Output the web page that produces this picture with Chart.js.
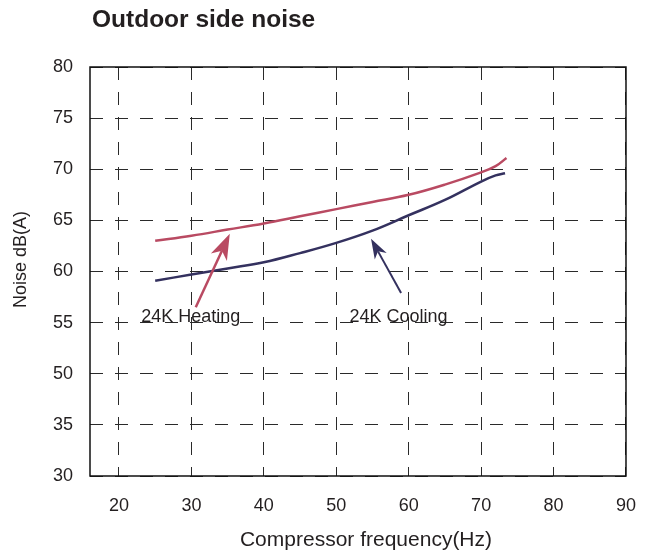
<!DOCTYPE html>
<html>
<head>
<meta charset="utf-8">
<script src="https://cdn.jsdelivr.net/npm/chart.js@4.4.1/dist/chart.umd.min.js"></script>
<style>
    html, body { margin: 0; padding: 0; background: #fff; }
    canvas { display: block; }
</style>
</head>
<body>
<canvas id="chart-noise" width="655" height="559"></canvas>
<script>
// Dados (frequência em Hz, ruído em dB(A))
const freqTicks = [20, 30, 40, 50, 60, 70, 80, 90];
// eixo Y quebrado: 40 e 45 do eixo aparecem como 30 e 35
const yTickLabels = ['30', '35', '50', '55', '60', '65', '70', '75', '80'];

const heatingFreq = [25, 30, 35, 40, 45, 50, 55, 60, 65, 70, 72, 73.5];
const heatingNoise = [63.0, 63.5, 64.1, 64.7, 65.4, 66.1, 66.8, 67.5, 68.5, 69.7, 70.3, 71.1];

const coolingFreq = [25, 30, 35, 40, 45, 50, 55, 60, 65, 70, 72, 73.3];
const coolingNoise = [59.1, 59.7, 60.3, 60.9, 61.8, 62.8, 64.0, 65.5, 67.0, 68.8, 69.4, 69.6];

const TEXT = '#231f20';
const RED = '#b94a62';
const NAVY = '#34315f';
const FONT = "'Liberation Sans', Arial, sans-serif";

Chart.defaults.font.family = FONT;
Chart.defaults.color = TEXT;

// Setas e rótulos das curvas (em unidades dos eixos)
const callouts = [
    { text: '24K Heating', color: RED, width: 2.5, head: 26, label: [29.9, 55.1], tail: [30.6, 56.5], tip: [35.3, 63.7] },
    { text: '24K Cooling', color: NAVY, width: 2, head: 20, label: [58.6, 55.1], tail: [58.95, 57.9], tip: [54.8, 63.2] }
];

// deslocamento dos títulos dos eixos em relação ao centro (px)
const titleShift = { x: [8, 0], y: [0, -12] };

function toPoints(xs, ys) {
    return xs.map((x, i) => ({ x: x, y: ys[i] }));
}

// Moldura, título e setas
const decorPlugin = {
    id: 'decor',
    afterDraw(chart) {
        const { ctx, chartArea: a, scales } = chart;
        ctx.save();
        ctx.strokeStyle = '#111';
        ctx.lineWidth = 1.5;
        ctx.strokeRect(a.left, a.top, a.right - a.left, a.bottom - a.top);

        ctx.fillStyle = TEXT;
        ctx.font = 'bold 24.5px ' + FONT;
        ctx.textAlign = 'left';
        ctx.textBaseline = 'alphabetic';
        ctx.fillText('Outdoor side noise', a.left + 2, 27);

        callouts.forEach(c => {
            const tx = scales.x.getPixelForValue(c.tail[0]);
            const ty = scales.y.getPixelForValue(c.tail[1]);
            const hx = scales.x.getPixelForValue(c.tip[0]);
            const hy = scales.y.getPixelForValue(c.tip[1]);
            const ang = Math.atan2(hy - ty, hx - tx);
            const len = c.head, half = c.head * 0.34, notch = c.head * 0.28;
            ctx.strokeStyle = c.color;
            ctx.fillStyle = c.color;
            ctx.lineWidth = c.width;
            ctx.beginPath();
            ctx.moveTo(tx, ty);
            ctx.lineTo(hx - Math.cos(ang) * (len - notch), hy - Math.sin(ang) * (len - notch));
            ctx.stroke();
            ctx.translate(hx, hy);
            ctx.rotate(ang);
            ctx.beginPath();
            ctx.moveTo(0, 0);
            ctx.lineTo(-len, -half);
            ctx.lineTo(-len + notch, 0);
            ctx.lineTo(-len, half);
            ctx.closePath();
            ctx.fill();
            ctx.setTransform(1, 0, 0, 1, 0, 0);

            ctx.fillStyle = TEXT;
            ctx.font = '18px ' + FONT;
            ctx.textAlign = 'center';
            ctx.fillText(c.text, scales.x.getPixelForValue(c.label[0]), scales.y.getPixelForValue(c.label[1]));
        });
        ctx.restore();
    }
};

// Move os títulos dos eixos um pouco
const titleShiftPlugin = {
    id: 'titleShift',
    beforeDraw(chart) {
        Object.keys(titleShift).forEach(id => {
            const scale = chart.scales[id];
            if (scale._shifted) return;
            scale._shifted = true;
            const orig = scale.drawTitle.bind(scale);
            scale.drawTitle = function() {
                chart.ctx.save();
                chart.ctx.translate(titleShift[id][0], titleShift[id][1]);
                orig();
                chart.ctx.restore();
            };
        });
    }
};

new Chart(document.getElementById('chart-noise'), {
    type: 'line',
    data: {
        datasets: [
            {
                label: '24K Heating',
                data: toPoints(heatingFreq, heatingNoise),
                borderColor: RED,
                borderWidth: 2.5,
                pointRadius: 0,
                tension: 0.4,
                fill: false
            },
            {
                label: '24K Cooling',
                data: toPoints(coolingFreq, coolingNoise),
                borderColor: NAVY,
                borderWidth: 2.5,
                pointRadius: 0,
                tension: 0.4,
                fill: false
            }
        ]
    },
    options: {
        responsive: false,
        animation: false,
        layout: { padding: { top: 67, right: 27, left: 0, bottom: 0 } },
        plugins: {
            legend: { display: false },
            tooltip: { enabled: false },
            title: { display: false }
        },
        scales: {
            x: {
                type: 'linear',
                min: 16,
                max: 90,
                afterBuildTicks: function(scale) {
                    scale.ticks = freqTicks.map(v => ({ value: v }));
                },
                afterFit: function(scale) { scale.height = 83; },
                grid: { color: '#2a2a2a', lineWidth: 1, drawTicks: false },
                border: { display: false, dash: [13, 12] },
                ticks: { padding: 19, maxRotation: 0, font: { size: 18 }, color: TEXT },
                title: {
                    display: true,
                    text: 'Compressor frequency(Hz)',
                    font: { size: 21 },
                    color: TEXT,
                    padding: { top: 0, bottom: 6 }
                }
            },
            y: {
                type: 'linear',
                min: 40,
                max: 80,
                afterFit: function(scale) { scale.width = 90; },
                grid: { color: '#2a2a2a', lineWidth: 1, drawTicks: false },
                border: { display: false, dash: [13, 12] },
                ticks: {
                    stepSize: 5,
                    padding: 17,
                    font: { size: 18 },
                    color: TEXT,
                    callback: function(value, index) { return yTickLabels[index]; }
                },
                title: {
                    display: true,
                    text: 'Noise dB(A)',
                    font: { size: 18 },
                    color: TEXT,
                    padding: { top: 10, bottom: 0 }
                }
            }
        }
    },
    plugins: [decorPlugin, titleShiftPlugin]
});
</script>
</body>
</html>
